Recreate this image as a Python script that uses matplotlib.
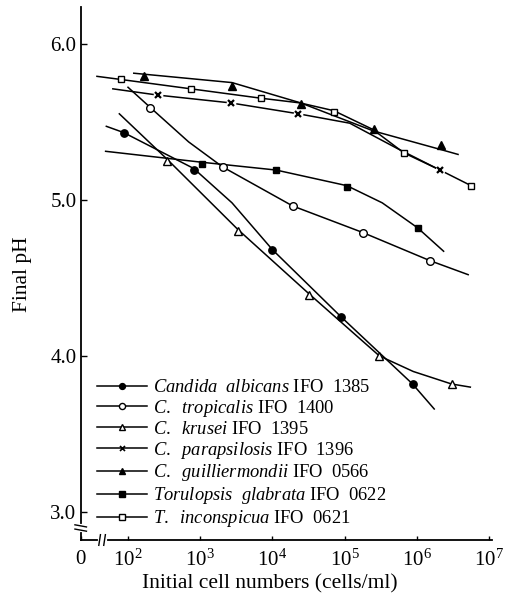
import numpy as np
import matplotlib
matplotlib.use('Agg')
import matplotlib.pyplot as plt
from matplotlib.lines import Line2D
from matplotlib.ticker import NullLocator

plt.rcParams['font.family'] = 'Liberation Serif'
plt.rcParams['mathtext.fontset'] = 'custom'
plt.rcParams['mathtext.rm'] = 'Liberation Serif'
plt.rcParams['mathtext.it'] = 'Liberation Serif:italic'

# values; x is log10(cells/ml), y is final pH
# markers = measured points, fit = hand drawn curve through them
albicans_x = [1.94, 2.91, 4.00, 4.95, 5.94]
albicans_ph = [5.43, 5.19, 4.68, 4.25, 3.82]
albicans_fit_x = [1.70, 1.94, 2.91, 3.44, 4.00, 4.95, 5.94, 6.24]
albicans_fit_ph = [5.47, 5.43, 5.20, 4.98, 4.68, 4.25, 3.82, 3.66]

tropicalis_x = [2.31, 3.31, 4.28, 5.25, 6.18]
tropicalis_ph = [5.59, 5.21, 4.96, 4.79, 4.61]
tropicalis_fit_x = [2.00, 2.31, 2.84, 3.31, 4.28, 5.25, 6.18, 6.71]
tropicalis_fit_ph = [5.72, 5.59, 5.37, 5.21, 4.96, 4.79, 4.61, 4.52]

krusei_x = [2.54, 3.52, 4.50, 5.48, 6.48]
krusei_ph = [5.25, 4.80, 4.39, 4.00, 3.82]
krusei_fit_x = [1.88, 2.54, 3.52, 4.50, 5.48, 5.95, 6.48, 6.74]
krusei_fit_ph = [5.55, 5.26, 4.81, 4.40, 4.00, 3.90, 3.82, 3.80]

parapsilosis_x = [2.41, 3.42, 4.36, 6.32]
parapsilosis_ph = [5.67, 5.62, 5.55, 5.19]
parapsilosis_fit_x = [1.79, 2.41, 3.42, 4.36, 5.07, 5.72, 6.32]
parapsilosis_fit_ph = [5.71, 5.67, 5.62, 5.55, 5.49, 5.33, 5.19]

guillier_x = [2.22, 3.44, 4.39, 5.40, 6.34]
guillier_ph = [5.79, 5.73, 5.61, 5.45, 5.35]
guillier_fit_x = [2.08, 3.44, 4.39, 5.40, 6.34, 6.57]
guillier_fit_ph = [5.81, 5.75, 5.62, 5.44, 5.32, 5.29]

glabrata_x = [3.02, 4.05, 5.03, 6.01]
glabrata_ph = [5.23, 5.19, 5.08, 4.82]
glabrata_fit_x = [1.69, 3.02, 4.05, 5.03, 5.52, 6.01, 6.37]
glabrata_fit_ph = [5.31, 5.24, 5.19, 5.09, 4.98, 4.82, 4.67]

inconsp_x = [1.90, 2.87, 3.84, 4.85, 5.82, 6.75]
inconsp_ph = [5.77, 5.71, 5.65, 5.56, 5.30, 5.09]
inconsp_fit_x = [1.57, 1.90, 2.87, 3.84, 4.38, 4.85, 5.39, 5.82, 6.32, 6.75]
inconsp_fit_ph = [5.79, 5.77, 5.71, 5.65, 5.62, 5.57, 5.45, 5.30, 5.19, 5.09]

labels = [
    r'$\it{Candida\ \ albicans}$ IFO  1385',
    r'$\it{C.\ \ tropicalis}$ IFO  1400',
    r'$\it{C.\ \ krusei}$ IFO  1395',
    r'$\it{C.\ \ parapsilosis}$ IFO  1396',
    r'$\it{C.\ \ guilliermondii}$ IFO  0566',
    r'$\it{Torulopsis\ \ glabrata}$ IFO  0622',
    r'$\it{T.\ \ inconspicua}$ IFO  0621',
]

series = [
    (albicans_x, albicans_ph, albicans_fit_x, albicans_fit_ph, 'o', 'black', 5.3),
    (tropicalis_x, tropicalis_ph, tropicalis_fit_x, tropicalis_fit_ph, 'o', 'white', 5.5),
    (krusei_x, krusei_ph, krusei_fit_x, krusei_fit_ph, '^', 'white', 5.2),
    (parapsilosis_x, parapsilosis_ph, parapsilosis_fit_x, parapsilosis_fit_ph, 'x', 'black', 4.5),
    (guillier_x, guillier_ph, guillier_fit_x, guillier_fit_ph, '^', 'black', 5.2),
    (glabrata_x, glabrata_ph, glabrata_fit_x, glabrata_fit_ph, 's', 'black', 4.6),
    (inconsp_x, inconsp_ph, inconsp_fit_x, inconsp_fit_ph, 's', 'white', 4.8),
]

fig = plt.figure(figsize=(5.11, 5.99), dpi=100)
ax = fig.add_axes([80.7 / 511, 1 - 540 / 599, (492 - 80.7) / 511, 533 / 599])

x_lo, x_hi = 1.345, 7.04
ax.set_xscale('log')
ax.set_xlim(10 ** x_lo, 10 ** x_hi)
ax.set_ylim(2.821, 6.234)

handles = []
for mx, mph, fx, fph, mk, fill, ms in series:
    ax.plot(10 ** np.array(fx), fph, color='black', lw=1.1, zorder=2)
    if mk == 'x':
        # little gap in the curve around the cross
        ax.plot(10 ** np.array(mx), mph, ls='none', marker='o', ms=7,
                mfc='white', mec='none', zorder=3)
        ax.plot(10 ** np.array(mx), mph, ls='none', marker='x', ms=ms,
                mec='black', mew=1.6, zorder=4)
    else:
        ax.plot(10 ** np.array(mx), mph, ls='none', marker=mk, ms=ms,
                mfc=fill, mec='black', mew=1.0, zorder=4)
    handles.append(Line2D([], [], color='black', lw=1.1, marker=mk, ms=ms * 0.8,
                          mfc=fill, mec='black', mew=1.2 if mk == 'x' else 1.0))

ax.legend(handles, labels, loc='upper left',
          bbox_to_anchor=(96.7 / 511, 1 - 379 / 599), bbox_transform=fig.transFigure,
          frameon=False, borderpad=0, borderaxespad=0, handlelength=2.7,
          handletextpad=0.35, labelspacing=0.1, fontsize=13.3)

xt = [10 ** x_lo] + [10.0 ** k for k in range(2, 8)]
ax.set_xticks(xt)
ax.set_xticklabels(['0'] + [r'$10^{%d}$' % k for k in range(2, 8)])
ax.xaxis.set_minor_locator(NullLocator())
ax.set_yticks([3, 4, 5, 6])
ax.set_yticklabels(['3.0', '4.0', '5.0', '6.0'])
ax.tick_params(axis='x', direction='in', length=3, width=1, labelsize=15, pad=7)
ax.tick_params(axis='y', direction='in', length=4, width=1, labelsize=15, pad=3)

for s in ['top', 'right']:
    ax.spines[s].set_visible(False)
for s in ['left', 'bottom']:
    ax.spines[s].set_linewidth(1.3)

# axis breaks
bx = 0.052
ax.plot([bx - 0.006, bx + 0.006], [0, 0], color='white', lw=3,
        transform=ax.transAxes, clip_on=False, zorder=5)
for d in (-0.006, 0.006):
    ax.plot([bx + d - 0.002, bx + d + 0.002], [-0.01, 0.01], color='black', lw=1.0,
            transform=ax.transAxes, clip_on=False, zorder=6)
by = 0.0225
ax.plot([0, 0], [by - 0.004, by + 0.004], color='white', lw=3,
        transform=ax.transAxes, clip_on=False, zorder=5)
for d in (-0.004, 0.004):
    ax.plot([-0.014, 0.014], [by + d + 0.002, by + d - 0.002], color='black', lw=1.0,
            transform=ax.transAxes, clip_on=False, zorder=6)

fig.text(270 / 511, 1 - 584 / 599, 'Initial cell numbers (cells/ml)',
         ha='center', va='center', fontsize=15.5)
fig.text(23 / 511, 1 - 274 / 599, 'Final pH', rotation=90,
         ha='center', va='center', fontsize=15.5)

fig.savefig('out.png', dpi=100)
